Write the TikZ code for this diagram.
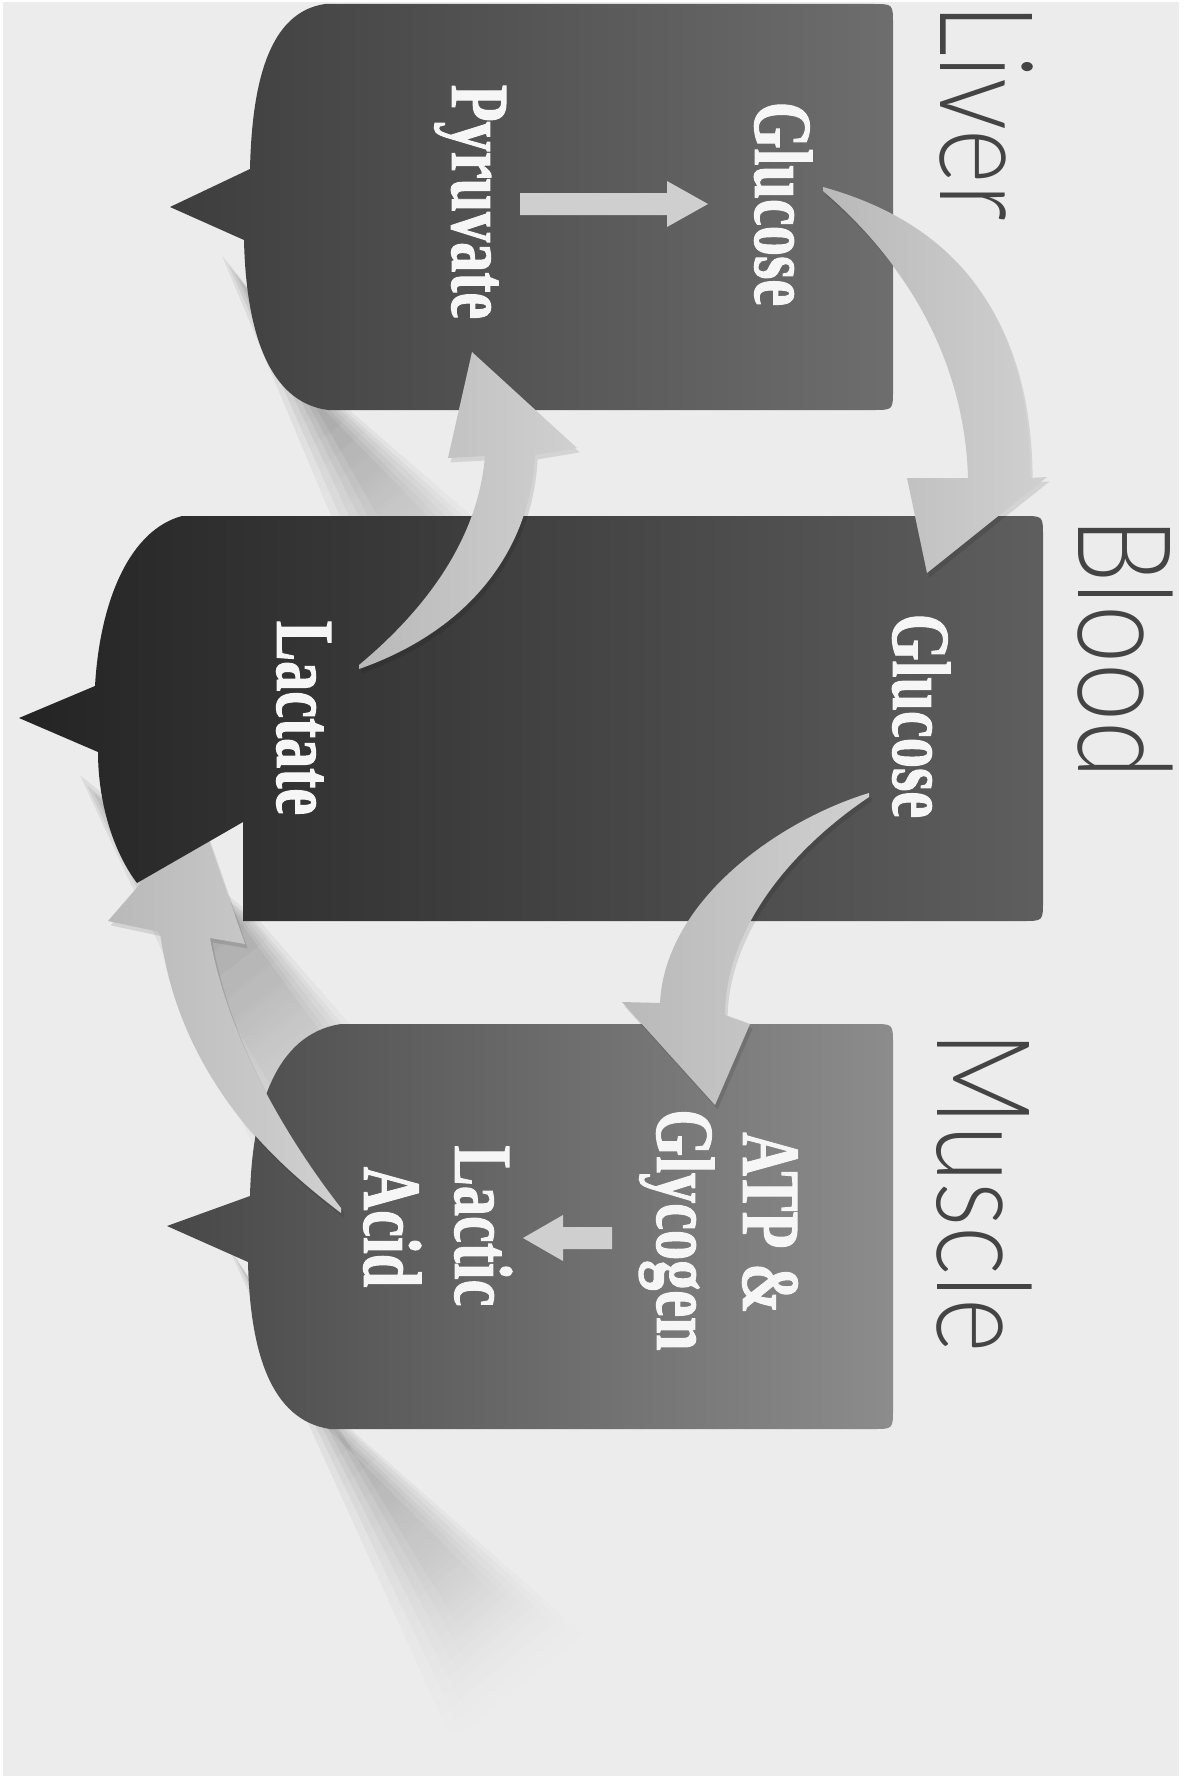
\documentclass[tikz,border=0pt]{standalone}
\usepackage{fontspec}
\newfontfamily\titlefont{Lato Light}[FakeStretch=0.8]
\newfontfamily\boxfont{Liberation Serif}[FakeStretch=0.73, FakeBold=1.2]
\usetikzlibrary{fadings,calc}
\definecolor{bg}{HTML}{ECECEC}
\definecolor{titlegray}{HTML}{444444}
\definecolor{arrowdark}{HTML}{B9B9B9}
\definecolor{arrowlight}{HTML}{D0D0D0}
\definecolor{smallgray}{HTML}{CFCFCF}
\definecolor{txtwhite}{HTML}{F6F6F6}
\tikzfading[name=shadowfade, top color=transparent!0, bottom color=transparent!100]
% soft long shadow: outer quad #1-#4, inner quad #5-#8
\newcommand{\mysoftshadow}[8]{%
  \foreach \t in {0,0.2,0.4,0.6,0.8,1}{%
    \fill[black, fill opacity=0.065, path fading=shadowfade, fading angle=33]
      ($#1!\t!#5$) -- ($#2!\t!#6$) -- ($#3!\t!#7$) -- ($#4!\t!#8$) -- cycle;}}
\begin{document}
\begin{tikzpicture}[x=0.02cm,y=-0.02cm,
  title/.style={rotate=-90, anchor=base, inner sep=0pt, text=titlegray,
                font=\titlefont\fontsize{74}{80}\selectfont},
  boxtext/.style={rotate=-90, anchor=base, inner sep=0pt, text=txtwhite,
                font=\boxfont\bfseries\fontsize{47}{50}\selectfont},
  bigarrow/.style={left color=arrowdark, right color=arrowlight},
  arrowshadow/.style={fill=black, fill opacity=0.10, xshift=1.5pt, yshift=-2.5pt},
  smallarrow/.style={fill=smallgray}]
\useasboundingbox (0,0) rectangle (1184,1788);
\fill[white] (0,0) rectangle (1184,1788);
\fill[bg] (3,2) rectangle (1179,1776);

% soft long shadows
\mysoftshadow{(222,255)}{(350,410)}{(570,600)}{(400,680)}{(255,300)}{(320,405)}{(500,590)}{(440,625)}
\mysoftshadow{(80,775)}{(260,921)}{(460,1150)}{(290,1225)}{(115,820)}{(235,915)}{(400,1140)}{(320,1170)}
\mysoftshadow{(228,1245)}{(352,1429)}{(615,1660)}{(450,1735)}{(262,1300)}{(325,1425)}{(540,1640)}{(485,1670)}

% Liver box
\path[left color=black!76, right color=black!57]
  (325,4) -- (873,4) .. controls (893,4) .. (893,24) -- (893,390)
  .. controls (893,410) .. (873,410) -- (328,410)
  .. controls (268,402) and (246,330) .. (244,240) -- (170,207) -- (250,169)
  .. controls (252,80) and (270,12) .. (325,4) -- cycle;

% Muscle box
\path[left color=black!72, right color=black!45]
  (341,1024) -- (873,1024) .. controls (893,1024) .. (893,1044) -- (893,1409)
  .. controls (893,1429) .. (873,1429) -- (330,1429)
  .. controls (270,1420) and (250,1350) .. (248,1262) -- (167,1226) -- (250,1196)
  .. controls (252,1110) and (275,1034) .. (341,1024) -- cycle;

% arrow outlines
\def\arrowlactic{(341,1213) .. controls (285,1170) and (180,1085) .. (160,932)
  -- (108,921) -- (200,815) -- (245,944) -- (210,938)
  .. controls (228,1040) and (288,1140) .. (341,1208) -- cycle}
\def\arrowliver{(823,187) .. controls (960,225) and (1030,320) .. (1030,478)
  -- (1047,477) -- (927,573) -- (907,478) -- (968,478)
  .. controls (965,365) and (910,265) .. (823,191) -- cycle}
\def\arrowblood{(869,793) .. controls (780,820) and (665,900) .. (660,1003)
  -- (622,1002) -- (715,1105) -- (750,1024) -- (725,1015)
  .. controls (725,930) and (790,850) .. (869,797) -- cycle}
\def\arrowlactate{(359,669) .. controls (470,630) and (530,550) .. (535,455)
  -- (577,448) -- (472,352) -- (448,458) -- (485,456)
  .. controls (478,540) and (425,610) .. (359,665) -- cycle}

% Lactic acid -> Lactate (head passes under the blood box)
\path[arrowshadow] \arrowlactic;
\path[bigarrow] \arrowlactic;

% Blood box
\path[left color=black!86, right color=black!63]
  (182,516) -- (1023,516) .. controls (1043,516) .. (1043,536) -- (1043,901)
  .. controls (1043,921) .. (1023,921) -- (243,921) -- (243,822) -- (137,883)
  .. controls (112,850) and (98,800) .. (98,752) -- (19,718) -- (95,686)
  .. controls (100,600) and (130,530) .. (182,516) -- cycle;

% Liver glucose -> Blood, Blood glucose -> Muscle, Lactate -> Pyruvate
\path[arrowshadow] \arrowliver;
\path[bigarrow] \arrowliver;
\path[arrowshadow] \arrowblood;
\path[bigarrow] \arrowblood;
\path[arrowshadow] \arrowlactate;
\path[bigarrow] \arrowlactate;

% small straight arrows
\path[smallarrow] (520,193) -- (667,193) -- (667,181) -- (708,204) -- (667,227)
  -- (667,215) -- (520,215) -- cycle;
\path[smallarrow] (612,1227) -- (563,1227) -- (563,1215) -- (523,1238) -- (563,1261)
  -- (563,1249) -- (612,1249) -- cycle;

% titles
\node[title] (liver) at (940,112) {Liver};
\node[title] (blood) at (1078,648) {Blood};
\node[title] (muscle) at (937,1192) {Muscle};

% box texts
\node[boxtext] (lglucose) at (755,204) {Glucose};
\node[boxtext] (pyruvate) at (452,202) {Pyruvate};
\node[boxtext] (bglucose) at (893,716) {Glucose};
\node[boxtext] (lactate) at (277,718) {Lactate};
\node[boxtext] (atp) at (743,1223) {ATP \&};
\node[boxtext] (glycogen) at (657,1230) {Glycogen};
\node[boxtext] (lactic) at (455,1226) {Lactic};
\node[boxtext] (acid) at (364,1227) {Acid};
\end{tikzpicture}
\end{document}
